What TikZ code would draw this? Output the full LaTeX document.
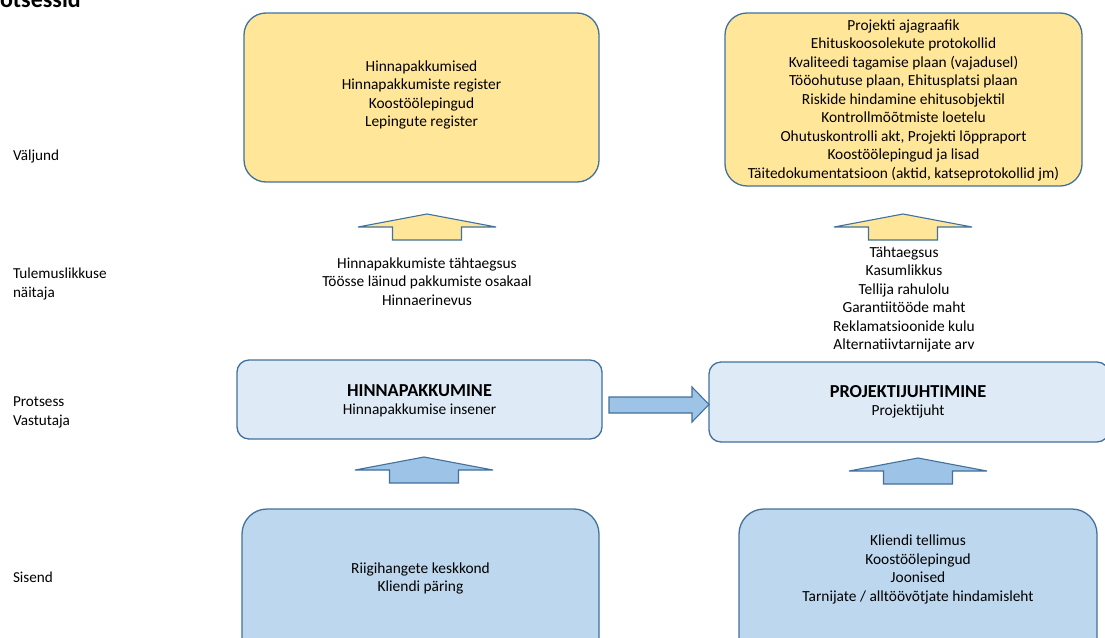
\documentclass[tikz,border=0pt]{standalone}
\usepackage{fontspec}
\setmainfont{Carlito}
\definecolor{outyel}{HTML}{FFE699}
\definecolor{bordblue}{HTML}{41719C}
\definecolor{procblue}{HTML}{DEEBF7}
\definecolor{inblue}{HTML}{BDD7EE}
\definecolor{arrblue}{HTML}{9DC3E6}
\newcommand\blockup[3]{\draw[arrowline,fill=#1] (#2,#3) -- ++(69,13) -- ++(-34.5,0) -- ++(0,13) -- ++(-69,0) -- ++(0,-13) -- ++(-34.5,0) -- cycle;}
\newcommand\bigtitle[1]{{\fontsize{18.3}{20}\selectfont\bfseries #1}}
\begin{document}
\begin{tikzpicture}[x=1pt,y=-1pt,
  every node/.style={inner sep=0pt, outer sep=0pt},
  txt/.style={font=\fontsize{15.4}{18.5}\selectfont, align=center, text=black},
  lbl/.style={font=\fontsize{15.2}{18.5}\selectfont, align=left, anchor=west, text=black},
  boxbase/.style={draw=bordblue, line width=1.3pt, anchor=north west},
  outbox/.style={boxbase, fill=outyel, rounded corners=22pt},
  procbox/.style={boxbase, fill=procblue, rounded corners=12pt},
  inbox/.style={boxbase, fill=inblue, rounded corners=25pt},
  arrowline/.style={draw=bordblue, line width=1.1pt, line join=miter}
]
\useasboundingbox (0,0) rectangle (1105,637);

% title (clipped at top, as in the reference)
\node[anchor=base west, font=\bfseries\fontsize{24}{24}\selectfont] (title) at (0,7) {otsessid};

% row labels
\node[lbl] (lv) at (13,157) {Väljund};
\node[lbl] (lt) at (13,284) {Tulemuslikkuse\\näitaja};
\node[lbl] (lp) at (13,412.5) {Protsess\\Vastutaja};
\node[lbl] (ls) at (13,577) {Sisend};

% output boxes
\node[outbox, minimum width=355pt, minimum height=169pt] (out1) at (244,13) {};
\node[txt] (out1t) at (421.5,95) {Hinnapakkumised\\Hinnapakkumiste register\\Koostöölepingud\\Lepingute register};
\node[outbox, minimum width=357pt, minimum height=173pt] (out2) at (725,13) {};
\node[txt] (out2t) at (903.5,100) {Projekti ajagraafik\\Ehituskoosolekute protokollid\\Kvaliteedi tagamise plaan (vajadusel)\\Tööohutuse plaan, Ehitusplatsi plaan\\Riskide hindamine ehitusobjektil\\Kontrollmõõtmiste loetelu\\Ohutuskontrolli akt, Projekti lõppraport\\Koostöölepingud ja lisad\\Täitedokumentatsioon (aktid, katseprotokollid jm)};

% yellow up arrows
\blockup{outyel}{427}{214}
\blockup{outyel}{903}{214}

% performance indicators
\node[txt] (kpi1) at (427,281.5) {Hinnapakkumiste tähtaegsus\\Töösse läinud pakkumiste osakaal\\Hinnaerinevus};
\node[txt] (kpi2) at (904,299.5) {Tähtaegsus\\Kasumlikkus\\Tellija rahulolu\\Garantiitööde maht\\Reklamatsioonide kulu\\Alternatiivtarnijate arv};

% process boxes
\node[procbox, minimum width=365pt, minimum height=79pt] (hp) at (237,360) {};
\node[txt] (hpt) at (419.5,401) {\bigtitle{HINNAPAKKUMINE}\\Hinnapakkumise insener};
\node[procbox, minimum width=400pt, minimum height=80pt] (pj) at (709,362) {};
\node[txt] (pjt) at (908,402) {\bigtitle{PROJEKTIJUHTIMINE}\\Projektijuht};

% horizontal block arrow
\draw[arrowline, fill=arrblue] (609,397) -- (692,397) -- (692,387) -- (709,404.5) -- (692,422) -- (692,413) -- (609,413) -- cycle;

% blue up arrows
\blockup{arrblue}{424}{457}
\blockup{arrblue}{918}{458}

% input boxes
\node[inbox, minimum width=357pt, minimum height=160pt] (in1) at (242,509) {};
\node[txt] (in1t) at (420.5,578.5) {Riigihangete keskkond\\Kliendi päring};
\node[inbox, minimum width=358pt, minimum height=160pt] (in2) at (739,509) {};
\node[txt] (in2t) at (918,569.5) {Kliendi tellimus\\Koostöölepingud\\Joonised\\Tarnijate / alltöövõtjate hindamisleht};
\end{tikzpicture}
\end{document}
